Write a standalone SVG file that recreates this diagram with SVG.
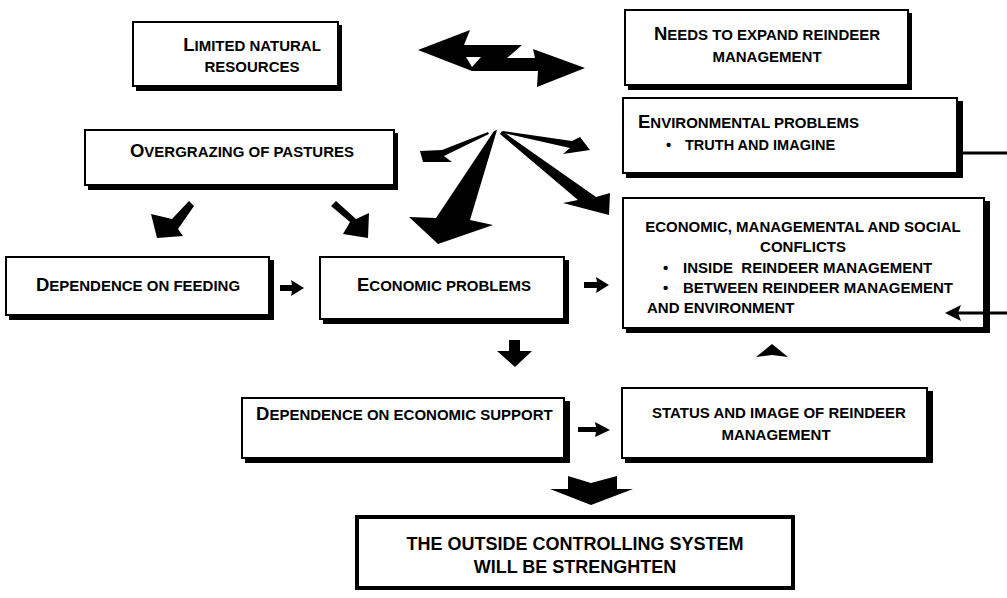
<svg xmlns="http://www.w3.org/2000/svg" width="1007" height="598" viewBox="0 0 1007 598">
<style>
.sh{fill:#000}
.bx{fill:#fff;stroke:#000;stroke-width:2}
.t{font-family:"Liberation Sans",Arial,sans-serif;font-weight:bold;font-size:15px;fill:#000}
.c{font-size:18.5px}
.f{font-size:18px}
.m{text-anchor:middle}
.ar{fill:#000;stroke:none}
.ln{stroke:#000;stroke-width:3;fill:none}
</style>
<rect width="1007" height="598" fill="#fff"/>
<g id="n1">
<rect class="sh" x="136" y="25" width="206" height="66"/>
<rect class="bx" x="133" y="22" width="205" height="64"/>
<text class="t m" x="252" y="51"><tspan class="c">L</tspan>IMITED NATURAL</text>
<text class="t m" x="252" y="72">RESOURCES</text>
</g>
<g id="n2">
<rect class="sh" x="628" y="13" width="284" height="77"/>
<rect class="bx" x="625" y="10" width="283" height="75"/>
<text class="t m" x="767" y="40"><tspan class="c">N</tspan>EEDS TO EXPAND REINDEER</text>
<text class="t m" x="767" y="62">MANAGEMENT</text>
</g>
<g id="n3">
<rect class="sh" x="626" y="101" width="337" height="77"/>
<rect class="bx" x="623" y="98" width="334" height="75"/>
<text class="t" x="638" y="128"><tspan class="c">E</tspan>NVIRONMENTAL PROBLEMS</text>
<text class="t" x="666" y="150">•</text>
<text class="t" x="685" y="150" style="font-size:14.5px">TRUTH AND IMAGINE</text>
</g>
<g id="n4">
<rect class="sh" x="88" y="133" width="310" height="57"/>
<rect class="bx" x="85" y="130" width="309" height="55"/>
<text class="t m" x="242" y="157"><tspan class="c">O</tspan>VERGRAZING OF PASTURES</text>
</g>
<g id="n5">
<rect class="sh" x="9" y="260" width="265" height="60"/>
<rect class="bx" x="6" y="257" width="263" height="58"/>
<text class="t m" x="138" y="291"><tspan class="c">D</tspan>EPENDENCE ON FEEDING</text>
</g>
<g id="n6">
<rect class="sh" x="323" y="260" width="246" height="64"/>
<rect class="bx" x="320" y="257" width="244" height="62"/>
<text class="t m" x="444" y="291"><tspan class="c">E</tspan>CONOMIC PROBLEMS</text>
</g>
<g id="n7">
<rect class="sh" x="626" y="201" width="364" height="132"/>
<rect class="bx" x="623" y="198" width="361" height="130"/>
<text class="t m" x="803" y="232">ECONOMIC, MANAGEMENTAL AND SOCIAL</text>
<text class="t m" x="803" y="252">CONFLICTS</text>
<text class="t" x="663" y="273">•</text>
<text class="t" x="683" y="273" xml:space="preserve">INSIDE  REINDEER MANAGEMENT</text>
<text class="t" x="663" y="293">•</text>
<text class="t" x="683" y="293">BETWEEN REINDEER MANAGEMENT</text>
<text class="t" x="647" y="313">AND ENVIRONMENT</text>
</g>
<g id="n8">
<rect class="sh" x="245" y="401" width="325" height="62"/>
<rect class="bx" x="242" y="398" width="322" height="60"/>
<text class="t" x="256" y="420"><tspan class="c">D</tspan>EPENDENCE ON ECONOMIC SUPPORT</text>
</g>
<g id="n9">
<rect class="sh" x="625" y="391" width="308" height="72"/>
<rect class="bx" x="622" y="388" width="305" height="70"/>
<text class="t m" x="779" y="418">STATUS AND IMAGE OF REINDEER</text>
<text class="t m" x="776" y="440">MANAGEMENT</text>
</g>
<g id="n10">
<rect x="357" y="517" width="436" height="71" fill="#fff" stroke="#000" stroke-width="4"/>
<text class="t f m" x="575" y="550">THE OUTSIDE CONTROLLING SYSTEM</text>
<text class="t f m" x="575" y="573">WILL BE STRENGHTEN</text>
</g>
<g id="connectors">
<polygon class="ar" points="418,50 470,30 464,45 522,45 507,58 535,58 533,49 585,68 537,87 538,71 472,71"/>
<polygon fill="#fff" points="466,57 481,57 472,67"/>
<polygon class="ar" points="488,132 442,150 420,151 423,162 452,162 444,156 489,134"/>
<polygon class="ar" points="497,130 494,131 436,218 409,217 438,244 493,225 470,220"/>
<polygon class="ar" points="503,131 572,141 580,137 590,150 563,154 570,148 503,133"/>
<polygon class="ar" points="502,131 500,134 578,200 563,203 609,215 610,193 596,197"/>
<polygon class="ar" points="189,201 172,219 151,214 157,238 183,236 178,229 194,206"/>
<polygon class="ar" points="331,206 350,222 343,234 368,238 369,213 356,219 336,201"/>
<polygon class="ar" points="280,285 292,285 291,280 304,288 291,296 292,291 280,291"/>
<polygon class="ar" points="584,282 597,282 596,277 609,285 596,293 597,288 584,288"/>
<polygon class="ar" points="578,427 596,427 595,422 610,430 595,437 596,432 578,432"/>
<polygon class="ar" points="509,340 520,340 520,351 532,351 515,367 497,351 509,351"/>
<polygon class="ar" points="772,344 788,357 772,355 756,357"/>
<polygon class="ar" points="568,476 591,483 617,476 617,489 633,489 591,505 550,489 568,489"/>
<line class="ln" x1="962" y1="153" x2="1007" y2="153"/>
<line class="ln" x1="1007" y1="313" x2="958" y2="313"/>
<polygon class="ar" points="945,313 961,305 958,313 961,321"/>
</g>
</svg>
